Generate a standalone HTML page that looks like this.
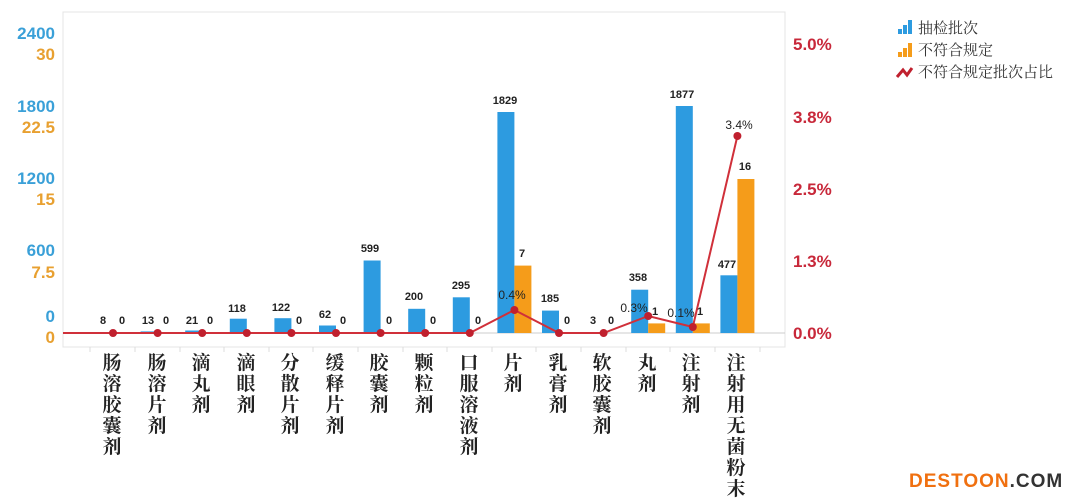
<!DOCTYPE html>
<html><head><meta charset="utf-8"><style>
html,body{margin:0;padding:0;background:#fff;}
svg{display:block;}
.v{font:bold 11px "Liberation Sans",sans-serif;fill:#222;text-anchor:middle;}
.c{font:bold 19px "Liberation Serif","Noto Serif CJK SC",serif;fill:#222;text-anchor:middle;}
.b{font:bold 17px "Liberation Sans",sans-serif;fill:#3aa0d8;text-anchor:end;}
.o{font:bold 17px "Liberation Sans",sans-serif;fill:#e8a030;text-anchor:end;}
.r{font:bold 17px "Liberation Sans",sans-serif;fill:#c8283a;}
.l{font:15px "Liberation Serif","Noto Serif CJK SC",serif;fill:#333;}
</style></head><body>
<svg width="1080" height="503" viewBox="0 0 1080 503" xmlns="http://www.w3.org/2000/svg">
<rect x="63" y="12" width="722" height="335" fill="none" stroke="#e4e4e4" stroke-width="1"/>
<line x1="63" y1="333" x2="785" y2="333" stroke="#ccc"/>
<g stroke="#ddd"><line x1="90" y1="347" x2="90" y2="352"/><line x1="135" y1="347" x2="135" y2="352"/><line x1="180" y1="347" x2="180" y2="352"/><line x1="224" y1="347" x2="224" y2="352"/><line x1="269" y1="347" x2="269" y2="352"/><line x1="313" y1="347" x2="313" y2="352"/><line x1="358" y1="347" x2="358" y2="352"/><line x1="403" y1="347" x2="403" y2="352"/><line x1="447" y1="347" x2="447" y2="352"/><line x1="492" y1="347" x2="492" y2="352"/><line x1="536" y1="347" x2="536" y2="352"/><line x1="581" y1="347" x2="581" y2="352"/><line x1="626" y1="347" x2="626" y2="352"/><line x1="670" y1="347" x2="670" y2="352"/><line x1="715" y1="347" x2="715" y2="352"/><line x1="760" y1="347" x2="760" y2="352"/></g>
<!-- left axes -->
<text class="b" x="55" y="39">2400</text><text class="o" x="55" y="60">30</text>
<text class="b" x="55" y="112">1800</text><text class="o" x="55" y="133">22.5</text>
<text class="b" x="55" y="184">1200</text><text class="o" x="55" y="205">15</text>
<text class="b" x="55" y="256">600</text><text class="o" x="55" y="278">7.5</text>
<text class="b" x="55" y="322">0</text><text class="o" x="55" y="343">0</text>
<!-- right axis -->
<text class="r" x="793" y="50">5.0%</text>
<text class="r" x="793" y="123">3.8%</text>
<text class="r" x="793" y="195">2.5%</text>
<text class="r" x="793" y="267">1.3%</text>
<text class="r" x="793" y="339">0.0%</text>
<!-- blue bars -->
<g fill="#2d9be0">
<rect x="96" y="332" width="17" height="1"/>
<rect x="140.6" y="331.4" width="17" height="1.6"/>
<rect x="185.2" y="330.5" width="17" height="2.5"/>
<rect x="229.8" y="318.7" width="17" height="14.3"/>
<rect x="274.4" y="318.2" width="17" height="14.8"/>
<rect x="319" y="325.5" width="17" height="7.5"/>
<rect x="363.6" y="260.5" width="17" height="72.5"/>
<rect x="408.2" y="308.8" width="17" height="24.2"/>
<rect x="452.8" y="297.3" width="17" height="35.7"/>
<rect x="497.4" y="112" width="17" height="221"/>
<rect x="542" y="310.6" width="17" height="22.4"/>
<rect x="586.6" y="332.6" width="17" height="0.4"/>
<rect x="631.2" y="289.7" width="17" height="43.3"/>
<rect x="675.8" y="106" width="17" height="227"/>
<rect x="720.4" y="275.3" width="17" height="57.7"/>
</g>
<g fill="#f59c1a">
<rect x="514.4" y="265.6" width="17" height="67.4"/>
<rect x="648.2" y="323.4" width="17" height="9.6"/>
<rect x="692.8" y="323.4" width="17" height="9.6"/>
<rect x="737.4" y="179" width="17" height="154"/>
</g>
<!-- line -->
<polyline fill="none" stroke="#d0303a" stroke-width="2" points="63,333 113,333 157.6,333 202.2,333 246.8,333 291.4,333 336,333 380.6,333 425.2,333 469.8,333 514.4,310 559,333 603.6,333 648.2,316 692.8,327 737.4,136"/>
<g fill="#c0202e">
<circle cx="113" cy="333" r="4"/><circle cx="157.6" cy="333" r="4"/><circle cx="202.2" cy="333" r="4"/><circle cx="246.8" cy="333" r="4"/><circle cx="291.4" cy="333" r="4"/><circle cx="336" cy="333" r="4"/><circle cx="380.6" cy="333" r="4"/><circle cx="425.2" cy="333" r="4"/><circle cx="469.8" cy="333" r="4"/><circle cx="514.4" cy="310" r="4"/><circle cx="559" cy="333" r="4"/><circle cx="603.6" cy="333" r="4"/><circle cx="648.2" cy="316" r="4"/><circle cx="692.8" cy="327" r="4"/><circle cx="737.4" cy="136" r="4"/>
</g>
<!-- value labels -->
<g class="v">
<text x="103" y="324">8</text><text x="122" y="324">0</text>
<text x="148" y="324">13</text><text x="166" y="324">0</text>
<text x="192" y="324">21</text><text x="210" y="324">0</text>
<text x="237" y="312">118</text>
<text x="281" y="311">122</text><text x="299" y="324">0</text>
<text x="325" y="318">62</text><text x="343" y="324">0</text>
<text x="370" y="252">599</text><text x="389" y="324">0</text>
<text x="414" y="300">200</text><text x="433" y="324">0</text>
<text x="461" y="289">295</text><text x="478" y="324">0</text>
<text x="505" y="104">1829</text><text x="522" y="257">7</text>
<text x="550" y="302">185</text><text x="567" y="324">0</text>
<text x="593" y="324">3</text><text x="611" y="324">0</text>
<text x="638" y="281">358</text><text x="655" y="315">1</text>
<text x="682" y="98">1877</text><text x="700" y="315">1</text>
<text x="727" y="268">477</text><text x="745" y="170">16</text>
</g>
<g class="v" style="font-weight:normal;font-size:12px">
<text x="512" y="299">0.4%</text>
<text x="634" y="312">0.3%</text>
<text x="681" y="317">0.1%</text>
<text x="739" y="129">3.4%</text>
</g>
<!-- categories -->
<g class="c">
<text x="112" y="369">肠</text><text x="112" y="390">溶</text><text x="112" y="411">胶</text><text x="112" y="432">囊</text><text x="112" y="453">剂</text>
<text x="157" y="369">肠</text><text x="157" y="390">溶</text><text x="157" y="411">片</text><text x="157" y="432">剂</text>
<text x="201" y="369">滴</text><text x="201" y="390">丸</text><text x="201" y="411">剂</text>
<text x="246" y="369">滴</text><text x="246" y="390">眼</text><text x="246" y="411">剂</text>
<text x="290" y="369">分</text><text x="290" y="390">散</text><text x="290" y="411">片</text><text x="290" y="432">剂</text>
<text x="335" y="369">缓</text><text x="335" y="390">释</text><text x="335" y="411">片</text><text x="335" y="432">剂</text>
<text x="379" y="369">胶</text><text x="379" y="390">囊</text><text x="379" y="411">剂</text>
<text x="424" y="369">颗</text><text x="424" y="390">粒</text><text x="424" y="411">剂</text>
<text x="469" y="369">口</text><text x="469" y="390">服</text><text x="469" y="411">溶</text><text x="469" y="432">液</text><text x="469" y="453">剂</text>
<text x="513" y="369">片</text><text x="513" y="390">剂</text>
<text x="558" y="369">乳</text><text x="558" y="390">膏</text><text x="558" y="411">剂</text>
<text x="602" y="369">软</text><text x="602" y="390">胶</text><text x="602" y="411">囊</text><text x="602" y="432">剂</text>
<text x="647" y="369">丸</text><text x="647" y="390">剂</text>
<text x="691" y="369">注</text><text x="691" y="390">射</text><text x="691" y="411">剂</text>
<text x="736" y="369">注</text><text x="736" y="390">射</text><text x="736" y="411">用</text><text x="736" y="432">无</text><text x="736" y="453">菌</text><text x="736" y="474">粉</text><text x="736" y="495">末</text>
</g>
<!-- legend -->
<g fill="#2d9be0"><rect x="898" y="29" width="4" height="5"/><rect x="903" y="25" width="4" height="9"/><rect x="908" y="20" width="4" height="14"/></g>
<text class="l" x="918" y="33">抽检批次</text>
<g fill="#f59c1a"><rect x="898" y="52" width="4" height="5"/><rect x="903" y="48" width="4" height="9"/><rect x="908" y="43" width="4" height="14"/></g>
<text class="l" x="918" y="55">不符合规定</text>
<polyline points="897,77 903,70 907,75 912,68" fill="none" stroke="#c0202e" stroke-width="3"/>
<text class="l" x="918" y="77">不符合规定批次占比</text>
<!-- watermark -->
<text x="909" y="487" style="font:bold 19px 'Liberation Sans',sans-serif;letter-spacing:1px"><tspan fill="#f07010">DESTOON</tspan><tspan fill="#333">.COM</tspan></text>
</svg>
</body></html>
